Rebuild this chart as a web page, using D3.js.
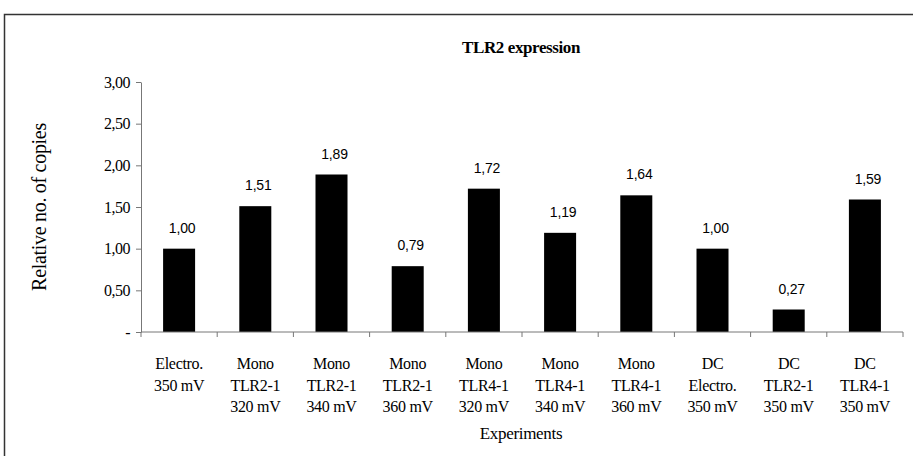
<!DOCTYPE html>
<html>
<head>
<meta charset="utf-8">
<script src="https://cdn.jsdelivr.net/npm/d3@7"></script>
<style>
  body { margin: 0; background: #fff; }
  svg { display: block; }
</style>
</head>
<body>
<div class="chart"></div>
<script>
// chart values
var categories = [
  ["Electro.", "350 mV"],
  ["Mono", "TLR2-1", "320 mV"],
  ["Mono", "TLR2-1", "340 mV"],
  ["Mono", "TLR2-1", "360 mV"],
  ["Mono", "TLR4-1", "320 mV"],
  ["Mono", "TLR4-1", "340 mV"],
  ["Mono", "TLR4-1", "360 mV"],
  ["DC", "Electro.", "350 mV"],
  ["DC", "TLR2-1", "350 mV"],
  ["DC", "TLR4-1", "350 mV"]
];
var values = [1.00, 1.51, 1.89, 0.79, 1.72, 1.19, 1.64, 1.00, 0.27, 1.59];
var yTicks = [0, 0.5, 1, 1.5, 2, 2.5, 3];

var svgWidth = 913;
var svgHeight = 456;

var margin = { top: 82, right: 10, bottom: 124, left: 141 };
var width = 903 - margin.left;
var height = svgHeight - margin.top - margin.bottom;

var serif = "'Liberation Serif', 'Times New Roman', serif";
var sans = "'Liberation Sans', Arial, sans-serif";

var svg = d3.select(".chart")
  .append("svg")
  .attr("width", svgWidth)
  .attr("height", svgHeight);

// outer frame of the chart area
svg.append("rect")
  .attr("x", 4.5)
  .attr("y", 14.5)
  .attr("width", 940)
  .attr("height", 480)
  .attr("fill", "none")
  .attr("stroke", "#333")
  .attr("stroke-width", 1.5);

// title
svg.append("text")
  .attr("x", 521)
  .attr("y", 53)
  .attr("text-anchor", "middle")
  .attr("font-family", serif)
  .attr("font-weight", "bold")
  .attr("font-size", "17px")
  .attr("letter-spacing", "-0.4px")
  .text("TLR2 expression");

var chartGroup = svg.append("g")
  .attr("transform", `translate(${margin.left}, ${margin.top})`);

var xScale = d3.scaleBand()
  .domain(d3.range(categories.length))
  .range([0, width])
  .paddingInner(0.58)
  .paddingOuter(0.29);

var xEdges = d3.scaleBand()
  .domain(d3.range(categories.length))
  .range([0, width]);

var yScale = d3.scaleLinear()
  .domain([0, 3])
  .range([height, 0]);

var fmt = function(v) {
  if (v === 0) return "-";
  return d3.format(".2f")(v).replace(".", ",");
};

// bars
chartGroup.selectAll(".bar")
  .data(values)
  .enter()
  .append("rect")
  .attr("class", "bar")
  .attr("x", (d, i) => xScale(i))
  .attr("y", d => yScale(d))
  .attr("width", xScale.bandwidth())
  .attr("height", d => height - yScale(d))
  .attr("fill", "#000");

// value labels
chartGroup.selectAll(".val")
  .data(values)
  .enter()
  .append("text")
  .attr("class", "val")
  .attr("x", (d, i) => xScale(i) + xScale.bandwidth() / 2 + 3)
  .attr("y", d => yScale(d) - 16)
  .attr("text-anchor", "middle")
  .attr("font-family", sans)
  .attr("font-size", "14px")
  .attr("letter-spacing", "-0.2px")
  .text(d => fmt(d));

// y axis
var leftAxis = d3.axisLeft(yScale)
  .tickValues(yTicks)
  .tickSize(5)
  .tickSizeOuter(0)
  .tickPadding(6)
  .tickFormat(fmt);

var yAxis = chartGroup.append("g")
  .call(leftAxis);
yAxis.select(".domain").attr("stroke", "#777");
yAxis.selectAll(".tick line").attr("stroke", "#777");
yAxis.selectAll(".tick text")
  .attr("font-family", serif)
  .attr("font-size", "16px")
  .attr("letter-spacing", "-0.5px")
  .attr("fill", "#000");

// x axis line with ticks between categories
var xAxisG = chartGroup.append("g")
  .attr("transform", `translate(0, ${height})`);
xAxisG.append("line")
  .attr("x1", 0)
  .attr("x2", width)
  .attr("stroke", "#777");
xAxisG.selectAll(".xtick")
  .data(d3.range(categories.length + 1))
  .enter()
  .append("line")
  .attr("class", "xtick")
  .attr("x1", i => i < categories.length ? xEdges(i) : width)
  .attr("x2", i => i < categories.length ? xEdges(i) : width)
  .attr("y1", 0)
  .attr("y2", 5)
  .attr("stroke", "#777");

// category labels
var catGroups = xAxisG.selectAll(".cat")
  .data(categories)
  .enter()
  .append("text")
  .attr("class", "cat")
  .attr("text-anchor", "middle")
  .attr("font-family", serif)
  .attr("font-size", "16px")
  .attr("letter-spacing", "-0.3px")
  .attr("transform", (d, i) => `translate(${xEdges(i) + xEdges.bandwidth() / 2}, 0)`);

catGroups.selectAll("tspan")
  .data(d => d)
  .enter()
  .append("tspan")
  .attr("x", 0)
  .attr("y", (d, j) => 37 + j * 21.7)
  .text(d => d);

// axis titles
svg.append("text")
  .attr("x", 521)
  .attr("y", 439)
  .attr("text-anchor", "middle")
  .attr("font-family", serif)
  .attr("font-size", "17px")
  .attr("letter-spacing", "-0.3px")
  .text("Experiments");

svg.append("text")
  .attr("transform", `translate(46, ${margin.top + height / 2}) rotate(-90)`)
  .attr("text-anchor", "middle")
  .attr("font-family", serif)
  .attr("font-size", "20px")
  .attr("letter-spacing", "-0.3px")
  .text("Relative no. of copies");
</script>
</body>
</html>
